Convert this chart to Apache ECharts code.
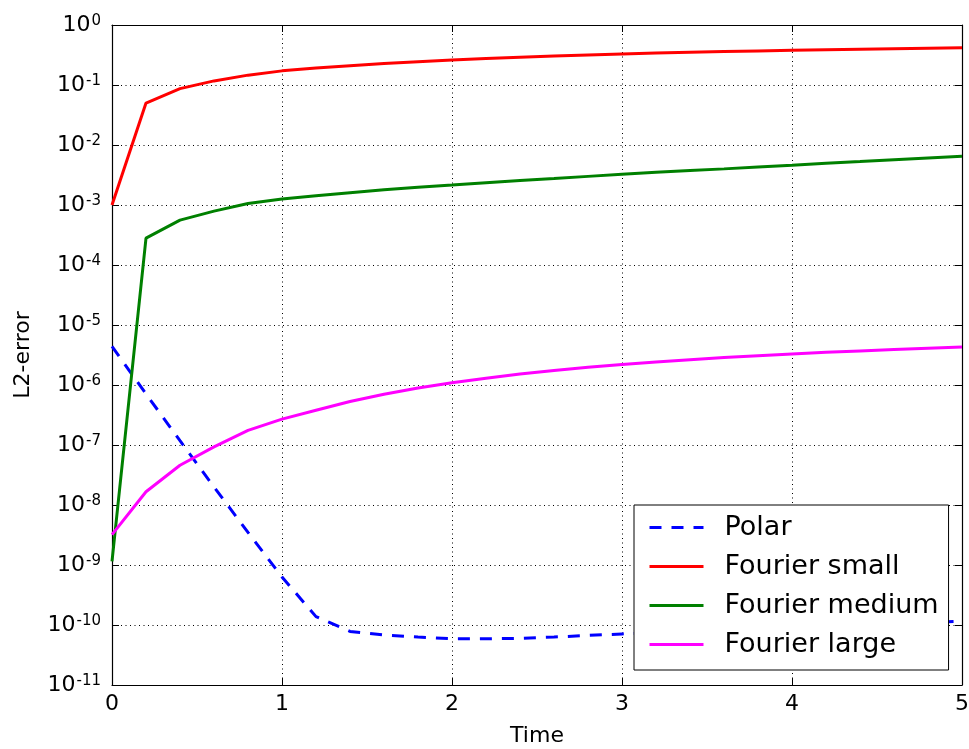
<!DOCTYPE html>
<html>
<head>
<meta charset="utf-8">
<script src="https://cdn.jsdelivr.net/npm/echarts@6/dist/echarts.min.js"></script>
<style>
  html, body { margin: 0; padding: 0; background: #fff; }
  #chart { width: 969px; height: 749px; }
</style>
</head>
<body>
<div id="chart"></div>
<script>
// Sample times and L2-error of each method
const times = [0, 0.2, 0.4, 0.6, 0.8, 1.0, 1.2, 1.4, 1.6, 1.8, 2.0, 2.2, 2.4, 2.6, 2.8,
               3.0, 3.2, 3.4, 3.6, 3.8, 4.0, 4.2, 4.4, 4.6, 4.8, 5.0];

const polar = [4.4e-6, 7.1e-7, 1.18e-7, 2.0e-8, 3.5e-9, 6.3e-10, 1.38e-10, 7.8e-11, 6.8e-11,
               6.3e-11, 5.9e-11, 5.9e-11, 6.0e-11, 6.3e-11, 6.7e-11, 7.1e-11, 7.4e-11, 7.8e-11,
               8.2e-11, 8.6e-11, 9.0e-11, 9.5e-11, 1.0e-10, 1.05e-10, 1.1e-10, 1.16e-10];

const fourierSmall = [1.0e-3, 0.050, 0.087, 0.117, 0.146, 0.172, 0.192, 0.210, 0.228, 0.245,
                      0.261, 0.276, 0.290, 0.304, 0.317, 0.330, 0.341, 0.351, 0.361, 0.370,
                      0.379, 0.387, 0.395, 0.403, 0.411, 0.419];

const fourierMedium = [1.15e-9, 2.8e-4, 5.6e-4, 7.9e-4, 1.06e-3, 1.26e-3, 1.42e-3, 1.6e-3,
                       1.8e-3, 1.98e-3, 2.15e-3, 2.35e-3, 2.55e-3, 2.76e-3, 3.0e-3, 3.25e-3,
                       3.5e-3, 3.75e-3, 4.0e-3, 4.3e-3, 4.6e-3, 4.95e-3, 5.3e-3, 5.7e-3,
                       6.1e-3, 6.5e-3];

const fourierLarge = [3.2e-9, 1.66e-8, 4.6e-8, 9.3e-8, 1.75e-7, 2.7e-7, 3.8e-7, 5.3e-7,
                      7.0e-7, 8.9e-7, 1.09e-6, 1.3e-6, 1.52e-6, 1.74e-6, 1.97e-6, 2.2e-6,
                      2.42e-6, 2.64e-6, 2.86e-6, 3.08e-6, 3.3e-6, 3.5e-6, 3.7e-6, 3.9e-6,
                      4.1e-6, 4.3e-6];

const seriesNames = ['Polar', 'Fourier small', 'Fourier medium', 'Fourier large'];
const xTicks = [0, 1, 2, 3, 4, 5];
const yMin = 1e-11, yMax = 1;

const FONT = 'DejaVu Sans';
const pairs = ys => times.map((t, i) => [t, ys[i]]);

const chart = echarts.init(document.getElementById('chart'), null, { renderer: 'canvas' });

const dotted = { show: true, lineStyle: { color: '#000', width: 1, type: [1, 3.5] } };
const tickIn = { show: true, inside: true, length: 7, lineStyle: { color: '#000', width: 1 } };
const frame = { show: true, onZero: false, lineStyle: { color: '#000', width: 1.2 } };

function expLabel(v) {
  const e = Math.round(Math.log10(v));
  return '{b|10}{s|' + e + '}';
}

const lineSeries = (name, ys, color, dashed) => ({
  name, type: 'line', data: pairs(ys), xAxisIndex: 0, yAxisIndex: 0,
  symbol: 'none', showSymbol: false, smooth: false, clip: true,
  lineStyle: { color, width: 3, type: dashed ? [12, 10] : 'solid' },
  itemStyle: { color },
  emphasis: { disabled: true }, animation: false
});

chart.setOption({
  animation: false,
  backgroundColor: '#fff',
  textStyle: { fontFamily: FONT },
  grid: { left: 112, top: 25, width: 850, height: 660, show: false,
          containLabel: false, outerBoundsMode: 'none' },
  xAxis: [
    {
      type: 'value', position: 'bottom', min: xTicks[0], max: xTicks[xTicks.length - 1], interval: 1,
      axisLine: frame, axisTick: tickIn, splitLine: dotted,
      axisLabel: { color: '#000', fontSize: 22, fontFamily: FONT, margin: 8,
                   formatter: v => String(v) },
      name: 'Time', nameLocation: 'middle', nameGap: 40,
      nameTextStyle: { color: '#000', fontSize: 22, fontFamily: FONT }
    },
    {
      type: 'value', position: 'top', min: xTicks[0], max: xTicks[xTicks.length - 1], interval: 1,
      axisLine: frame, axisTick: tickIn, splitLine: { show: false }, axisLabel: { show: false }
    }
  ],
  yAxis: [
    {
      type: 'log', logBase: 10, position: 'left', min: yMin, max: yMax, interval: 1, splitNumber: 11,
      axisLine: frame, axisTick: tickIn, splitLine: dotted, minorTick: { show: false },
      axisLabel: {
        color: '#000', fontFamily: FONT, margin: 11, align: 'right',
        formatter: expLabel,
        rich: {
          b: { fontSize: 22, fontFamily: FONT, color: '#000', verticalAlign: 'bottom', lineHeight: 22 },
          s: { fontSize: 15, fontFamily: FONT, color: '#000', verticalAlign: 'top', lineHeight: 15,
               padding: [0, 0, 14, 1] }
        }
      },
      name: 'L2-error', nameLocation: 'middle', nameRotate: 90, nameGap: 78,
      nameTextStyle: { color: '#000', fontSize: 22, fontFamily: FONT }
    },
    {
      type: 'log', logBase: 10, position: 'right', min: yMin, max: yMax, interval: 1, splitNumber: 11,
      axisLine: frame, axisTick: tickIn, splitLine: { show: false }, axisLabel: { show: false }
    }
  ],
  legend: {
    orient: 'vertical', left: 634, top: 505,
    data: seriesNames,
    backgroundColor: '#fff', borderColor: '#000', borderWidth: 1,
    padding: [9, 10, 12, 14],
    itemWidth: 54, itemHeight: 14, itemGap: 12,
    itemStyle: { opacity: 0 },
    lineStyle: { width: 3 },
    textStyle: { color: '#000', fontSize: 27, fontFamily: FONT, padding: [0, 0, 0, 16] },
    selectedMode: false
  },
  series: [
    lineSeries(seriesNames[0], polar, '#0000ff', true),
    lineSeries(seriesNames[1], fourierSmall, '#ff0000', false),
    lineSeries(seriesNames[2], fourierMedium, '#008000', false),
    lineSeries(seriesNames[3], fourierLarge, '#ff00ff', false)
  ]
});
</script>
</body>
</html>
